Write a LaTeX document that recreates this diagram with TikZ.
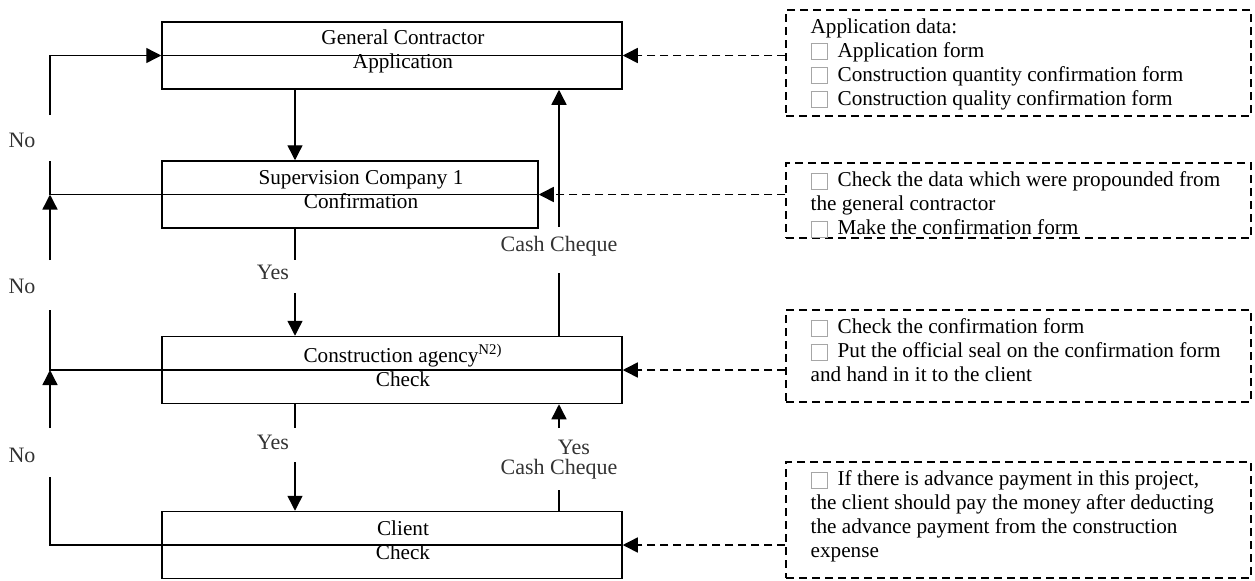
\documentclass[tikz,border=0pt]{standalone}
\usepackage{fontspec}
\setmainfont{Liberation Serif}
\usepackage{tikz}
\usetikzlibrary{arrows.meta,positioning,calc}

\newcommand{\chkbox}{{\color{gray!70}\setlength{\fboxsep}{0pt}\setlength{\fboxrule}{0.5pt}%
  \raisebox{-1pt}{\fbox{\rule{0pt}{7.5pt}\rule{7.5pt}{0pt}}}}\hspace{5pt}}

\begin{document}
\begin{tikzpicture}[x=0.5pt, y=-0.5pt,
    font=\fontsize{10.6}{12}\selectfont,
    stagebox/.style={draw, line width=0.75pt, inner sep=0pt, minimum height=33.5pt},
    stagetext/.style={align=center, inner sep=0pt},
    notebox/.style={draw, dash pattern=on 4pt off 2.5pt, line width=0.75pt,
                    minimum width=232.5pt, inner sep=0pt},
    notetext/.style={align=left, anchor=north west, inner sep=0pt},
    flow/.style={line width=0.7pt},
    flowarr/.style={line width=0.7pt, -{Triangle[length=7.5pt,width=7.5pt]}},
    notearr/.style={line width=0.75pt, dash pattern=on 4pt off 2.5pt,
                    -{Triangle[length=7.5pt,width=7.5pt]}},
    tag/.style={inner sep=0pt, text=black!80, font=\fontsize{11}{12}\selectfont}]

    \useasboundingbox (0,0) rectangle (1255,580);

    % Boxes
    \node[stagebox, minimum width=230pt] (gc) at (392,55.5) {};
    \node[stagebox, minimum width=188pt] (sc) at (350,194.5) {};
    \node[stagebox, minimum width=230pt] (ca) at (392,370) {};
    \node[stagebox, minimum width=230pt] (cl) at (392,545) {};

    \node[stagetext] (gct) at (403,51) {General Contractor\\Application};
    \node[stagetext] (sct) at (361,190) {Supervision Company 1\\Confirmation};
    \node[stagetext] (cat) at (403,365.5) {Construction agency\textsuperscript{N2)}\\Check};
    \node[stagetext] (clt) at (403,540.5) {Client\\Check};

    % Notes
    \node[notebox, minimum height=53pt] (nb1) at (1018.5,63) {};
    \node[notebox, minimum height=37.5pt] (nb2) at (1018.5,200.5) {};
    \node[notebox, minimum height=46pt] (nb3) at (1018.5,356) {};
    \node[notebox, minimum height=58pt] (nb4) at (1018.5,520) {};

    \node[notetext] (nt1) at ([xshift=12.5pt, yshift=-4.5pt]nb1.north west)
        {Application data:\\ \chkbox Application form\\
         \chkbox Construction quantity confirmation form\\
         \chkbox Construction quality confirmation form};
    \node[notetext] (nt2) at ([xshift=12.5pt, yshift=-4.5pt]nb2.north west)
        {\chkbox Check the data which were propounded from\\
         the general contractor\\ \chkbox Make the confirmation form};
    \node[notetext] (nt3) at ([xshift=12.5pt, yshift=-4.5pt]nb3.north west)
        {\chkbox Check the confirmation form\\
         \chkbox Put the official seal on the confirmation form\\
         and hand in it to the client};
    \node[notetext] (nt4) at ([xshift=12.5pt, yshift=-4.5pt]nb4.north west)
        {\chkbox If there is advance payment in this project,\\
         the client should pay the money after deducting\\
         the advance payment from the construction\\ expense};

    % Columns and gaps
    \coordinate (lfx) at (50,0);
    \coordinate (dnx) at (295,0);
    \coordinate (upx) at (559,0);
    \coordinate (n1a) at (50,115);  \coordinate (n1b) at (50,161);
    \coordinate (n2a) at (50,260);  \coordinate (n2b) at (50,310);
    \coordinate (n3a) at (50,428);  \coordinate (n3b) at (50,477);
    \coordinate (y1a) at (295,260); \coordinate (y1b) at (295,293);
    \coordinate (y2a) at (295,428); \coordinate (y2b) at (295,462);
    \coordinate (c1a) at (559,227); \coordinate (c1b) at (559,273);
    \coordinate (c2a) at (559,428); \coordinate (c2b) at (559,490);

    % Arrows down
    \draw[flowarr] (gc.south -| dnx) -- (sc.north -| dnx);
    \draw[flow] (sc.south -| dnx) -- (y1a);
    \draw[flowarr] (y1b) -- (ca.north -| dnx);
    \draw[flow] (ca.south -| dnx) -- (y2a);
    \draw[flowarr] (y2b) -- (cl.north -| dnx);

    % Arrows up (payment)
    \draw[flowarr] (c1a) -- (gc.south -| upx);
    \draw[flow] (ca.north -| upx) -- (c1b);
    \draw[flowarr] (c2a) -- (ca.south -| upx);
    \draw[flow] (cl.north -| upx) -- (c2b);

    % Return lines on the left
    \draw[flowarr] (n1a) |- (gc.west);
    \draw[flow] (gc.west) -- (gc.east);
    \draw[flow] (sc.east) -- (sc.west -| lfx) -- (n1b);
    \draw[flowarr] (n2a) -- (sc.west -| lfx);
    \draw[flow] (ca.east) -- (ca.west -| lfx) -- (n2b);
    \draw[flowarr] (n3a) -- (ca.west -| lfx);
    \draw[flow] (cl.east) -- (cl.west -| lfx) -- (n3b);

    % Note arrows
    \draw[notearr] (nb1.west |- gc.east) -- (gc.east);
    \draw[notearr] (nb2.west |- sc.east) -- (sc.east);
    \draw[notearr] (nb3.west |- ca.east) -- (ca.east);
    \draw[notearr] (nb4.west |- cl.east) -- (cl.east);

    % Labels
    \node[tag] (no1) at (22,140) {No};
    \node[tag] (no2) at (22,286) {No};
    \node[tag] (no3) at (22,455) {No};
    \node[tag] (yes1) at (273,272) {Yes};
    \node[tag] (yes2) at (273,442) {Yes};
    \node[tag] (yes3) at (574,447) {Yes};
    \node[tag] (cash1) at (559,246) {Cash Cheque};
    \node[tag] (cash2) at (559,469) {Cash Cheque};
\end{tikzpicture}
\end{document}
